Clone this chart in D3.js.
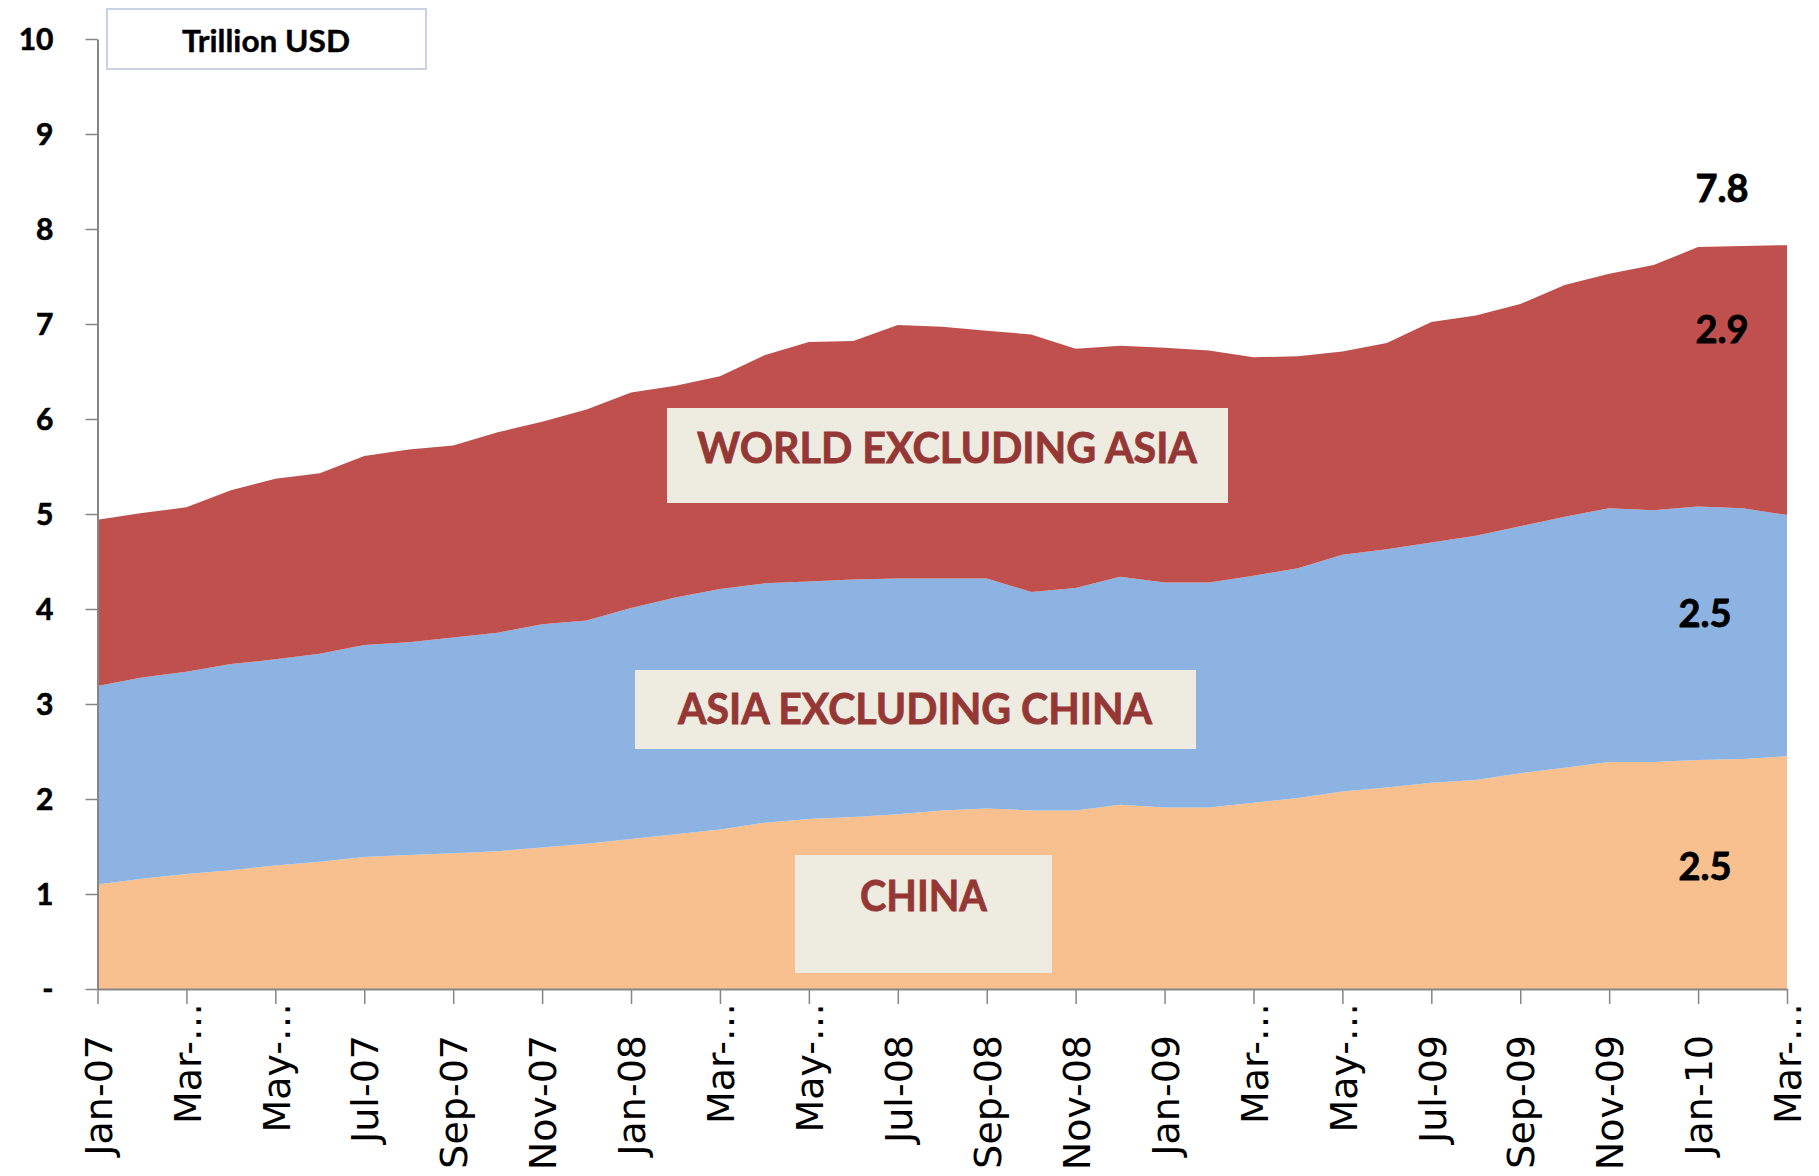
<!DOCTYPE html>
<html>
<head>
<meta charset="utf-8">
<script src="https://cdn.jsdelivr.net/npm/d3@7"></script>
<style>
  html, body { margin: 0; padding: 0; background: #fff; }
  svg { display: block; }
  .calibri { font-family: Lato, 'Open Sans', sans-serif; font-weight: bold; }
</style>
</head>
<body>
<div id="chart"></div>
<script>
'use strict'

const months = [
  'Jan-07', 'Feb-07', 'Mar-07', 'Apr-07', 'May-07', 'Jun-07', 'Jul-07', 'Aug-07', 'Sep-07', 'Oct-07', 'Nov-07', 'Dec-07',
  'Jan-08', 'Feb-08', 'Mar-08', 'Apr-08', 'May-08', 'Jun-08', 'Jul-08', 'Aug-08', 'Sep-08', 'Oct-08', 'Nov-08', 'Dec-08',
  'Jan-09', 'Feb-09', 'Mar-09', 'Apr-09', 'May-09', 'Jun-09', 'Jul-09', 'Aug-09', 'Sep-09', 'Oct-09', 'Nov-09', 'Dec-09',
  'Jan-10', 'Feb-10', 'Mar-10'
]

// shown under every second month, Excel cut the long ones short
const tickLabels = [
  'Jan-07', 'Mar-…', 'May-…', 'Jul-07', 'Sep-07', 'Nov-07',
  'Jan-08', 'Mar-…', 'May-…', 'Jul-08', 'Sep-08', 'Nov-08',
  'Jan-09', 'Mar-…', 'May-…', 'Jul-09', 'Sep-09', 'Nov-09',
  'Jan-10', 'Mar-…'
]

const china = [
  1.10, 1.16, 1.21, 1.25, 1.30, 1.34, 1.39, 1.41, 1.43, 1.45, 1.49, 1.53,
  1.58, 1.63, 1.68, 1.75, 1.79, 1.81, 1.84, 1.88, 1.90, 1.88, 1.88, 1.94,
  1.91, 1.91, 1.96, 2.01, 2.08, 2.12, 2.17, 2.20, 2.27, 2.33, 2.39, 2.39,
  2.41, 2.42, 2.45
]

const asiaExChina = [
  2.09, 2.12, 2.13, 2.17, 2.17, 2.19, 2.23, 2.24, 2.27, 2.30, 2.35, 2.35,
  2.43, 2.49, 2.53, 2.52, 2.50, 2.50, 2.48, 2.44, 2.42, 2.30, 2.34, 2.40,
  2.37, 2.37, 2.39, 2.42, 2.49, 2.51, 2.53, 2.57, 2.60, 2.64, 2.67, 2.65,
  2.67, 2.64, 2.54
]

const worldExAsia = [
  1.75, 1.73, 1.73, 1.83, 1.90, 1.90, 1.99, 2.03, 2.02, 2.11, 2.13, 2.22,
  2.27, 2.23, 2.24, 2.40, 2.52, 2.51, 2.67, 2.65, 2.61, 2.71, 2.52, 2.43,
  2.47, 2.44, 2.30, 2.23, 2.14, 2.17, 2.32, 2.32, 2.34, 2.44, 2.47, 2.58,
  2.73, 2.76, 2.84
]

const seriesKeys = ['china', 'asiaExChina', 'worldExAsia']
const seriesNames = ['CHINA', 'ASIA EXCLUDING CHINA', 'WORLD EXCLUDING ASIA']
const endValues = ['2.5', '2.5', '2.9', '7.8']
const yTicks = [0, 1, 2, 3, 4, 5, 6, 7, 8, 9, 10]
const unitLabel = 'Trillion USD'

const colors = ['#F9C08F', '#8DB3E2', '#C0504D']
const axisColor = '#868686'
const labelColor = '#953735'
const boxColor = '#EEECE1'

const width = 1819
const height = 1176
const plot = { left: 97.5, right: 1787, top: 39, bottom: 989 }

const table = months.map((m, i) => ({
  month: m,
  china: china[i],
  asiaExChina: asiaExChina[i],
  worldExAsia: worldExAsia[i]
}))

const svg = d3.select('#chart')
  .append('svg')
  .attr('width', width)
  .attr('height', height)

const x = d3.scalePoint()
  .domain(months)
  .range([plot.left, plot.right])

const y = d3.scaleLinear()
  .domain([0, 10])
  .range([plot.bottom, plot.top])

const stack = d3.stack().keys(seriesKeys)

const area = d3.area()
  .x((d) => x(d.data.month))
  .y0((d) => y(d[0]))
  .y1((d) => y(d[1]))

svg.append('g')
  .selectAll('path')
  .data(stack(table))
  .join('path')
  .attr('fill', (d, i) => colors[i])
  .attr('d', area)

// y axis
const yAxisG = svg.append('g')
  .attr('transform', `translate(${plot.left}, 0)`)
  .call(d3.axisLeft(y)
    .tickValues(yTicks)
    .tickSize(12)
    .tickSizeOuter(0)
    .tickPadding(32)
    .tickFormat((d) => d === 0 ? '-' : d))

yAxisG.select('.domain').attr('stroke', axisColor).attr('stroke-width', 2)
yAxisG.selectAll('.tick line').attr('stroke', axisColor).attr('stroke-width', 1.5)
yAxisG.selectAll('.tick text')
  .attr('class', 'calibri')
  .attr('font-size', 30)
  .attr('fill', '#000')
  .attr('stroke', '#000')
  .attr('stroke-width', 0.6)
  .attr('dy', '0.36em')

// x axis
const xTickMonths = months.filter((m, i) => i % 2 === 0)

const xAxisG = svg.append('g')
  .attr('transform', `translate(0, ${plot.bottom})`)
  .call(d3.axisBottom(x)
    .tickValues(xTickMonths)
    .tickSize(15)
    .tickSizeOuter(0)
    .tickFormat((d, i) => tickLabels[i]))

xAxisG.select('.domain').attr('stroke', axisColor).attr('stroke-width', 2)
xAxisG.selectAll('.tick line').attr('stroke', axisColor).attr('stroke-width', 1.5)
xAxisG.selectAll('.tick text')
  .attr('font-family', "'DejaVu Sans', Verdana, sans-serif")
  .attr('font-size', 38)
  .attr('fill', '#000')
  .attr('text-anchor', 'end')
  .attr('transform', 'rotate(-90)')
  .attr('x', (d, i) => tickLabels[i].endsWith('…') ? -14 : -46)
  .attr('y', 0)
  .attr('dy', '0.36em')

// unit box
svg.append('rect')
  .attr('x', 107)
  .attr('y', 9)
  .attr('width', 319)
  .attr('height', 60)
  .attr('fill', '#fff')
  .attr('stroke', '#C9D3E3')
  .attr('stroke-width', 2)

svg.append('text')
  .attr('class', 'calibri')
  .attr('x', 266)
  .attr('y', 52)
  .attr('text-anchor', 'middle')
  .attr('font-size', 30)
  .attr('stroke', '#000')
  .attr('stroke-width', 0.4)
  .attr('textLength', 168)
  .attr('lengthAdjust', 'spacingAndGlyphs')
  .text(unitLabel)

// series name boxes
const nameBoxes = [
  { x: 795, y: 855, w: 257, h: 118, tx: 923.5, ty: 910.7, tw: 127 },
  { x: 635, y: 670, w: 561, h: 79, tx: 915, ty: 724.3, tw: 474 },
  { x: 667, y: 408, w: 561, h: 95, tx: 947, ty: 462.7, tw: 500 }
]

const names = svg.append('g')
  .selectAll('g')
  .data(seriesNames)
  .join('g')

names.append('rect')
  .attr('x', (d, i) => nameBoxes[i].x)
  .attr('y', (d, i) => nameBoxes[i].y)
  .attr('width', (d, i) => nameBoxes[i].w)
  .attr('height', (d, i) => nameBoxes[i].h)
  .attr('fill', boxColor)

names.append('text')
  .attr('class', 'calibri')
  .attr('x', (d, i) => nameBoxes[i].tx)
  .attr('y', (d, i) => nameBoxes[i].ty)
  .attr('text-anchor', 'middle')
  .attr('font-size', 42)
  .attr('fill', labelColor)
  .attr('stroke', labelColor)
  .attr('stroke-width', 0.8)
  .attr('textLength', (d, i) => nameBoxes[i].tw)
  .attr('lengthAdjust', 'spacingAndGlyphs')
  .text((d) => d)

// latest values on the right
const endPos = [
  { dx: 7, v: 1.147 },
  { dx: 7, v: 3.814 },
  { dx: 24, v: 6.797 },
  { dx: 24, v: 8.287 }
]

svg.append('g')
  .selectAll('text')
  .data(endValues)
  .join('text')
  .attr('class', 'calibri')
  .attr('x', (d, i) => x('Jan-10') + endPos[i].dx)
  .attr('y', (d, i) => y(endPos[i].v))
  .attr('text-anchor', 'middle')
  .attr('font-size', 38)
  .attr('fill', '#000')
  .attr('stroke', '#000')
  .attr('stroke-width', 0.8)
  .text((d) => d)
</script>
</body>
</html>
